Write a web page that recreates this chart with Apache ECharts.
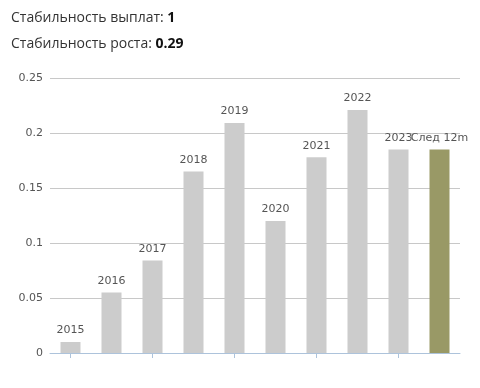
<!DOCTYPE html>
<html><head><meta charset="utf-8">
<script src="https://cdn.jsdelivr.net/npm/echarts@6/dist/echarts.min.js"></script>
<style>html,body{margin:0;padding:0;background:#fff}#c{width:480px;height:388px}</style>
</head><body><div id="c"></div>
<script>
var categories = ['2015','2016','2017','2018','2019','2020','2021','2022','2023','След 12m'];
var values = [0.01, 0.055, 0.084, 0.165, 0.209, 0.12, 0.178, 0.221, 0.185, 0.185];
var payoutStability = '1';
var growthStability = '0.29';

var chart = echarts.init(document.getElementById('c'));
var data = values.map(function(v, i){
  return {value: v, itemStyle: {color: i === values.length - 1 ? '#999966' : '#cccccc'}};
});
var titleStyle = {fontWeight: 'normal', rich: {
  a: {fontFamily: 'Open Sans', fontSize: 14, fontWeight: 'normal', color: '#333'},
  b: {fontFamily: 'Open Sans', fontSize: 14, fontWeight: 'bold', color: '#111'}}};
chart.setOption({
  animation: false,
  title: [
    {text: '{a|Стабильность выплат: }{b|' + payoutStability + '}', left: 6, top: 6, textStyle: titleStyle},
    {text: '{a|Стабильность роста: }{b|' + growthStability + '}', left: 6, top: 32, textStyle: titleStyle}
  ],
  grid: {left: 50, right: 20, top: 78, bottom: 35},
  xAxis: {
    type: 'category', data: categories,
    axisLine: {show: true, lineStyle: {color: '#adc3db'}},
    axisTick: {show: true, alignWithLabel: true, interval: 1, length: 5, lineStyle: {color: '#adc3db'}},
    axisLabel: {show: false, interval: 1}
  },
  yAxis: {
    type: 'value', min: 0, max: 0.25, interval: 0.05,
    axisLine: {show: false}, axisTick: {show: false},
    axisLabel: {color: '#555', fontSize: 11, fontFamily: 'DejaVu Sans', margin: 7,
      formatter: function(v){ return String(+v.toFixed(2)); }},
    splitLine: {lineStyle: {color: '#c8c8c8'}}
  },
  series: [{
    type: 'bar', data: data, barWidth: 20,
    label: {show: true, position: 'top', distance: 6, color: '#555', fontSize: 11, fontFamily: 'DejaVu Sans',
      formatter: function(p){ return categories[p.dataIndex]; }}
  }]
});
</script></body></html>
